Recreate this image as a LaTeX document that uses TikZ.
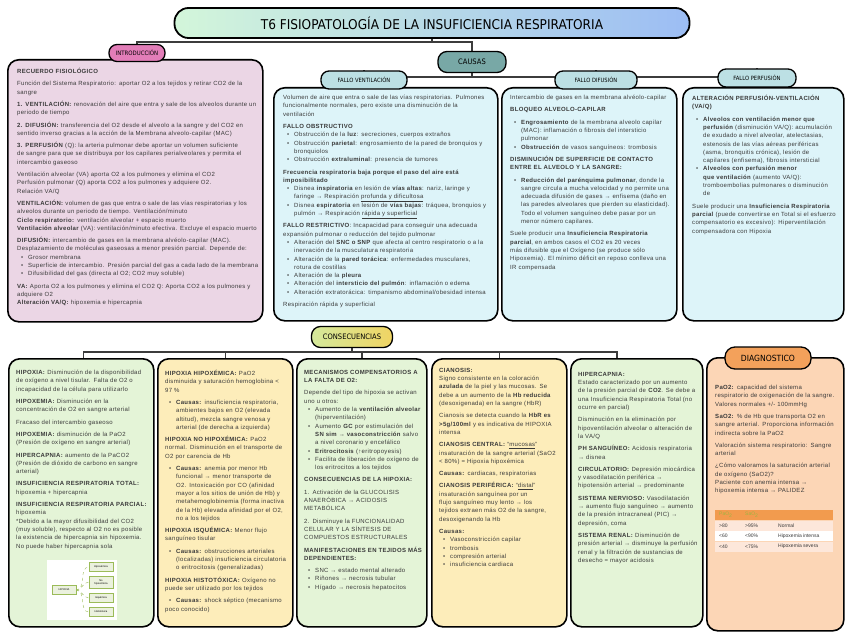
\documentclass[tikz,border=0pt]{standalone}
\usepackage{fontspec}
\setmainfont{Liberation Sans}[LetterSpace=5]
\newfontfamily\handfont{DejaVu Sans Condensed}
\newfontfamily\plainfont{Liberation Sans}
\usepackage{xcolor}
\usepackage{tikz}
\usetikzlibrary{positioning, backgrounds, calc}
\definecolor{titlemint}{HTML}{D3F6DA}
\definecolor{titlecyan}{HTML}{BEE6F2}
\definecolor{titleblue}{HTML}{9CBDF4}
\definecolor{intropink}{HTML}{E27DB8}
\definecolor{introfill}{HTML}{EBD6E5}
\definecolor{causasteal}{HTML}{78A8A6}
\definecolor{subpill}{HTML}{BCE0E4}
\definecolor{causefill}{HTML}{DDF4F9}
\definecolor{consgreen}{HTML}{D5E99C}
\definecolor{consyellow}{HTML}{F0D463}
\definecolor{greenfill}{HTML}{E4F4D7}
\definecolor{yellowfill}{HTML}{FDEDBA}
\definecolor{diagorange}{HTML}{F3A15B}
\definecolor{diagfill}{HTML}{FCD6B6}
\definecolor{tabhead}{HTML}{F29B4E}
\definecolor{tabrow}{HTML}{FDE7DA}
\definecolor{headtext}{HTML}{9DB542}
\definecolor{ink}{HTML}{3A3A3A}
\definecolor{linkgray}{HTML}{3C3C3C}
\definecolor{treegreen}{HTML}{9BBB59}
\definecolor{treefill}{HTML}{EBF1DE}
\setlength{\parindent}{0pt}
\newcommand{\bodysize}{\fontsize{6}{8.3}\selectfont\hyphenpenalty=10000\exhyphenpenalty=10000}
\newcommand{\gap}{\par\vspace{4pt}}
\newcommand{\itm}{\par\hangindent=11pt\hangafter=1\hspace*{4pt}\makebox[7pt][l]{\textbullet}}

\begin{document}
\begin{tikzpicture}[
  x=1pt, y=-1pt,
  font=\bodysize,
  panel/.style={draw=black, line width=1.6pt, rounded corners=11pt, anchor=north west, inner sep=0pt},
  pill/.style={draw=black, line width=1.3pt, rounded corners=8pt, inner xsep=6pt, inner ysep=0pt, text=black},
  body/.style={anchor=north west, align=left, inner sep=0pt, text width=#1, font=\bodysize, text=ink},
  link/.style={line width=1.6pt, draw=linkgray},
  leaf/.style={draw=treegreen, fill=treefill, line width=0.3pt, font=\plainfont\fontsize{2.6}{3}\selectfont, inner sep=1pt, align=center, minimum width=24pt, minimum height=9pt},
  twig/.style={draw=treegreen, line width=0.4pt, dashed},
  cell/.style={anchor=west, inner sep=0pt, font=\plainfont\fontsize{5}{6}\selectfont},
]
\useasboundingbox (0,0) rectangle (848,636);

% title
\node[pill, minimum width=515pt, minimum height=30pt, rounded corners=14pt, line width=1.8pt,
  left color=titlemint, middle color=titlecyan, right color=titleblue,
  font=\handfont\fontsize{13.5}{14}\selectfont] (title) at (432,23) {T6 FISIOPATOLOGÍA DE LA INSUFICIENCIA RESPIRATORIA};

% upper panels
\node[panel, fill=introfill, minimum width=255pt, minimum height=262pt] (introbox) at (7,59) {};
\node[panel, fill=causefill, minimum width=224pt, minimum height=233pt] (ventbox) at (273,87) {};
\node[panel, fill=causefill, minimum width=175pt, minimum height=233pt] (difbox) at (501,87) {};
\node[panel, fill=causefill, minimum width=161pt, minimum height=233pt] (perfbox) at (682,87) {};

\node[pill, fill=intropink, minimum width=56pt, minimum height=17pt, font=\handfont\fontsize{6}{6}\selectfont] (intro) at (137,53) {INTRODUCCIÓN};
\node[pill, fill=causasteal, minimum width=68pt, minimum height=21pt, rounded corners=9pt, font=\handfont\fontsize{7.5}{8}\selectfont] (causas) at (472,62) {CAUSAS};
\node[pill, fill=subpill, minimum width=86pt, minimum height=18pt, font=\handfont\fontsize{5.8}{6}\selectfont] (fvent) at (364,80) {FALLO VENTILACIÓN};
\node[pill, fill=subpill, minimum width=82pt, minimum height=18pt, font=\handfont\fontsize{5.8}{6}\selectfont] (fdif) at (596,80) {FALLO DIFUSIÓN};
\node[pill, fill=subpill, minimum width=78pt, minimum height=18pt, font=\handfont\fontsize{5.8}{6}\selectfont] (fperf) at (757,78) {FALLO PERFUSIÓN};

\node[body=242pt] (introtxt) at (17,68) {%
\textbf{RECUERDO FISIOLÓGICO}\gap
Función del Sistema Respiratorio: aportar O2 a los tejidos y retirar CO2 de la sangre\gap
\textbf{1. VENTILACIÓN:} renovación del aire que entra y sale de los alveolos durante un periodo de tiempo\gap
\textbf{2. DIFUSIÓN:} transferencia del O2 desde el alveolo a la sangre y del CO2 en sentido inverso gracias a la acción de la Membrana alveolo-capilar (MAC)\gap
\textbf{3. PERFUSIÓN} (Q): la arteria pulmonar debe aportar un volumen suficiente de sangre para que se distribuya por los capilares perialveolares y permita el intercambio gaseoso\gap
Ventilación alveolar (VA) aporta O2 a los pulmones y elimina el CO2\par
Perfusión pulmonar (Q) aporta CO2 a los pulmones y adquiere O2.\par
Relación VA/Q\gap
\textbf{VENTILACIÓN:} volumen de gas que entra o sale de las vías respiratorias y los alveolos durante un periodo de tiempo. Ventilación/minuto\par
\textbf{Ciclo respiratorio:} ventilación alveolar + espacio muerto\par
\textbf{Ventilación alveolar} (VA): ventilación/minuto efectiva. Excluye el espacio muerto\gap
\textbf{DIFUSIÓN:} intercambio de gases en la membrana alvéolo-capilar (MAC).\par
Desplazamiento de moléculas gaseosas a menor presión parcial. Depende de:
\itm Grosor membrana
\itm Superficie de intercambio. Presión parcial del gas a cada lado de la membrana
\itm Difusibilidad del gas (directa al O2; CO2 muy soluble)\gap
\textbf{VA:} Aporta O2 a los pulmones y elimina el CO2 Q: Aporta CO2 a los pulmones y adquiere O2\par
\textbf{Alteración VA/Q:} hipoxemia e hipercapnia};

\node[body=204pt] (venttxt) at (283,95) {%
Volumen de aire que entra o sale de las vías respiratorias. Pulmones funcionalmente normales, pero existe una disminución de la ventilación\gap
\textbf{FALLO OBSTRUCTIVO}
\itm Obstrucción de la \textbf{luz}: secreciones, cuerpos extraños
\itm Obstrucción \textbf{parietal}: engrosamiento de la pared de bronquios y bronquiolos
\itm Obstrucción \textbf{extraluminal}: presencia de tumores\gap
\textbf{Frecuencia respiratoria baja porque el paso del aire está imposibilitado}
\itm Disnea \textbf{inspiratoria} en lesión de \textbf{vías altas}: nariz, laringe y faringe → Respiración \underline{profunda y dificultosa}
\itm Disnea \textbf{espiratoria} en lesión de \textbf{vías bajas}: tráquea, bronquios y pulmón → Respiración \underline{rápida y superficial}\gap
\textbf{FALLO RESTRICTIVO}: Incapacidad para conseguir una adecuada expansión pulmonar o reducción del tejido pulmonar
\itm Alteración del \textbf{SNC o SNP} que afecta al centro respiratorio o a la inervación de la musculatura respiratoria
\itm Alteración de la \textbf{pared torácica}: enfermedades musculares, rotura de costillas
\itm Alteración de la \textbf{pleura}
\itm Alteración del \textbf{intersticio del pulmón}: inflamación o edema
\itm Alteración extratorácica: timpanismo abdominal/obesidad intensa\gap
Respiración rápida y superficial};

\node[body=158pt] (diftxt) at (510,95) {%
Intercambio de gases en la membrana alvéolo-capilar\gap
\textbf{BLOQUEO ALVEOLO-CAPILAR}\gap
\itm \textbf{Engrosamiento} de la membrana alveolo capilar (MAC): inflamación o fibrosis del intersticio pulmonar
\itm \textbf{Obstrucción} de vasos sanguíneos: trombosis\gap
\textbf{DISMINUCIÓN DE SUPERFICIE DE CONTACTO ENTRE EL ALVEOLO Y LA SANGRE:}\gap
\itm \textbf{Reducción del parénquima pulmonar}, donde la sangre circula a mucha velocidad y no permite una adecuada difusión de gases → enfisema (daño en las paredes alveolares que pierden su elasticidad). Todo el volumen sanguíneo debe pasar por un menor número capilares.\gap
Suele producir una \textbf{Insuficiencia Respiratoria parcial}, en ambos casos el CO2 es 20 veces más difusible que el Oxígeno (se produce sólo Hipoxemia). El mínimo déficit en reposo conlleva una IR compensada};

\node[body=142pt] (perftxt) at (692,95) {%
\textbf{ALTERACIÓN PERFUSIÓN-VENTILACIÓN (VA/Q)}\gap
\itm \textbf{Alveolos con ventilación menor que perfusión} (disminución VA/Q): acumulación de exudado a nivel alveolar, atelectasias, estenosis de las vías aéreas periféricas (asma, bronquitis crónica), lesión de capilares (enfisema), fibrosis intersticial
\itm \textbf{Alveolos con perfusión menor que ventilación} (aumento VA/Q): tromboembolias pulmonares o disminución de\gap
Suele producir una \textbf{Insuficiencia Respiratoria parcial} (puede convertirse en Total si el esfuerzo compensatorio es excesivo): Hiperventilación compensadora con Hipoxia};

% lower panels
\node[panel, fill=greenfill, minimum width=145pt, minimum height=268pt] (hipoxbox) at (8,358) {};
\node[panel, fill=yellowfill, minimum width=135pt, minimum height=268pt] (tiposbox) at (157,358) {};
\node[panel, fill=greenfill, minimum width=130pt, minimum height=268pt] (mecbox) at (296,358) {};
\node[panel, fill=yellowfill, minimum width=135pt, minimum height=268pt] (cianbox) at (431,358) {};
\node[panel, fill=greenfill, minimum width=132pt, minimum height=268pt] (hiperbox) at (570,358) {};
\node[panel, fill=diagfill, minimum width=137pt, minimum height=273pt] (diagbox) at (706,357) {};

\node[pill, minimum width=81pt, minimum height=21pt, rounded corners=9pt, left color=consgreen, right color=consyellow,
  font=\handfont\fontsize{7.5}{8}\selectfont] (cons) at (352,337) {CONSECUENCIAS};
\node[pill, fill=diagorange, minimum width=86pt, minimum height=22pt, rounded corners=10pt,
  font=\handfont\fontsize{8.5}{9}\selectfont] (diag) at (768,358) {DIAGNOSTICO};

\node[body=131pt] (hipoxtxt) at (16,370) {%
\textbf{HIPOXIA:} Disminución de la disponibilidad de oxígeno a nivel tisular. Falta de O2 o incapacidad de la célula para utilizarlo\gap
\textbf{HIPOXEMIA:} Disminución en la concentración de O2 en sangre arterial\gap
Fracaso del intercambio gaseoso\gap
\textbf{HIPOXEMIA:} disminución de la PaO2 (Presión de oxígeno en sangre arterial)\gap
\textbf{HIPERCAPNIA:} aumento de la PaCO2 (Presión de dióxido de carbono en sangre arterial)\gap
\textbf{INSUFICIENCIA RESPIRATORIA TOTAL:} hipoxemia + hipercapnia\gap
\textbf{INSUFICIENCIA RESPIRATORIA PARCIAL:} hipoxemia\par
*Debido a la mayor difusibilidad del CO2 (muy soluble), respecto al O2 no es posible la existencia de hipercapnia sin hipoxemia. No puede haber hipercapnia sola};

% small tree inside the first panel
\node[fill=white, anchor=north west, minimum width=70pt, minimum height=60pt, inner sep=0pt] (treebg) at (47,560) {};
\node[leaf] (troot) at (64,590) {HIPOXIA};
\node[leaf] (tleaf1) at (101,567) {Hipoxémica};
\node[leaf, minimum height=12pt] (tleaf2) at (101,582) {No\\hipoxémica};
\node[leaf] (tleaf3) at (101,598) {Isquémica};
\node[leaf] (tleaf4) at (101,612) {Histotóxica};
\draw[twig] (troot.east) to[out=0, in=180] (tleaf1.west);
\draw[twig] (troot.east) to[out=0, in=180] (tleaf2.west);
\draw[twig] (troot.east) to[out=0, in=180] (tleaf3.west);
\draw[twig] (troot.east) to[out=0, in=180] (tleaf4.west);

\node[body=121pt] (tipostxt) at (165,370) {%
\textbf{HIPOXIA HIPOXÉMICA:} PaO2 disminuida y saturación hemoglobina < 97 \%\gap
\itm \textbf{Causas:} insuficiencia respiratoria, ambientes bajos en O2 (elevada altitud), mezcla sangre venosa y arterial (de derecha a izquierda)\gap
\textbf{HIPOXIA NO HIPOXÉMICA:} PaO2 normal. Disminución en el transporte de O2 por carencia de Hb\gap
\itm \textbf{Causas:} anemia por menor Hb funcional → menor transporte de O2. Intoxicación por CO (afinidad mayor a los sitios de unión de Hb) y metahemoglobinemia (forma inactiva de la Hb) elevada afinidad por el O2, no a los tejidos\gap
\textbf{HIPOXIA ISQUÉMICA:} Menor flujo sanguíneo tisular\gap
\itm \textbf{Causas:} obstrucciones arteriales (localizadas) insuficiencia circulatoria o eritrocitosis (generalizadas)\gap
\textbf{HIPOXIA HISTOTÓXICA:} Oxígeno no puede ser utilizado por los tejidos\gap
\itm \textbf{Causas:} shock séptico (mecanismo poco conocido)};

\node[body=118pt] (mectxt) at (304,370) {%
\textbf{MECANISMOS COMPENSATORIOS A LA FALTA DE O2:}\gap
Depende del tipo de hipoxia se activan uno u otros:
\itm Aumento de la \textbf{ventilación alveolar} (hiperventilación)
\itm Aumento \textbf{GC} por estimulación del \textbf{SN sim → vasoconstricción} salvo a nivel coronario y encefálico
\itm \textbf{Eritrocitosis} (↑eritropoyesis)
\itm Facilita de liberación de oxígeno de los eritrocitos a los tejidos\gap
\textbf{CONSECUENCIAS DE LA HIPOXIA:}\gap
1. Activación de la GLUCOLISIS ANAERÓBICA → ACIDOSIS METABÓLICA\gap
2. Disminuye la FUNCIONALIDAD CELULAR Y LA SÍNTESIS DE COMPUESTOS ESTRUCTURALES\gap
\textbf{MANIFESTACIONES EN TEJIDOS MÁS DEPENDIENTES:}\gap
\itm SNC → estado mental alterado
\itm Riñones → necrosis tubular
\itm Hígado → necrosis hepatocitos};

\node[body=121pt] (ciantxt) at (439,368) {%
\textbf{CIANOSIS:}\par
Signo consistente en la coloración \textbf{azulada} de la piel y las mucosas. Se debe a un aumento de la \textbf{Hb reducida} (desoxigenada) en la sangre (HbR)\gap
Cianosis se detecta cuando la \textbf{HbR es >5g/100ml} y es indicativa de HIPOXIA intensa\gap
\textbf{CIANOSIS CENTRAL:} “\underline{mucosas}” insaturación de la sangre arterial (SaO2 < 80\%) = Hipoxia hipoxémica\gap
\textbf{Causas:} cardiacas, respiratorias\gap
\textbf{CIANOSIS PERIFÉRICA:} “\underline{distal}” insaturación sanguínea por un flujo sanguíneo muy lento → los tejidos extraen más O2 de la sangre, desoxigenando la Hb\gap
\textbf{Causas:}
\itm Vasoconstricción capilar
\itm trombosis
\itm compresión arterial
\itm insuficiencia cardiaca};

\node[body=118pt] (hipertxt) at (578,372) {%
\textbf{HIPERCAPNIA:}\par
Estado caracterizado por un aumento de la presión parcial de \textbf{CO2}. Se debe a una Insuficiencia Respiratoria Total (no ocurre en parcial)\gap
Disminución en la eliminación por hipoventilación alveolar o alteración de la VA/Q\gap
\textbf{PH SANGUÍNEO:} Acidosis respiratoria → disnea\gap
\textbf{CIRCULATORIO:} Depresión miocárdica y vasodilatación periférica → hipotensión arterial → predominante\gap
\textbf{SISTEMA NERVIOSO:} Vasodilatación → aumento flujo sanguíneo → aumento de la presión intracraneal (PIC) → depresión, coma\gap
\textbf{SISTEMA RENAL:} Disminución de presión arterial → disminuye la perfusión renal y la filtración de sustancias de desecho = mayor acidosis};

\node[body=118pt] (diagtxt) at (715,385) {%
\textbf{PaO2:} capacidad del sistema respiratorio de oxigenación de la sangre. Valores normales +/- 100mmHg\gap
\textbf{SaO2:} \% de Hb que transporta O2 en sangre arterial. Proporciona información indirecta sobre la PaO2\gap
Valoración sistema respiratorio: Sangre arterial\gap
¿Cómo valoramos la saturación arterial de oxígeno (SaO2)?\par
Paciente con anemia intensa → hipoxemia intensa → PALIDEZ};

% saturation table
\node[fill=tabhead, anchor=north west, minimum width=118pt, minimum height=10pt, inner sep=0pt] (tabtop) at (715,510) {};
\node[fill=tabrow, anchor=north west, minimum width=118pt, minimum height=10pt, inner sep=0pt] (tabr1) at (715,520.5) {};
\node[fill=white, anchor=north west, minimum width=118pt, minimum height=10pt, inner sep=0pt] (tabr2) at (715,531) {};
\node[fill=tabrow, anchor=north west, minimum width=118pt, minimum height=10pt, inner sep=0pt] (tabr3) at (715,541.5) {};
\node[cell, text=headtext] (hpao) at (719,515) {PaO\textsubscript{2}};
\node[cell, text=headtext] (hsao) at (745,515) {SaO\textsubscript{2}};
\node[cell, text=ink] (r1a) at (719,525.5) {>80};
\node[cell, text=ink] (r1b) at (745,525.5) {>95\%};
\node[cell, text=ink] (r1c) at (778,525.5) {Normal};
\node[cell, text=ink] (r2a) at (719,536) {<60};
\node[cell, text=ink] (r2b) at (745,536) {<90\%};
\node[cell, text=ink] (r2c) at (778,536) {Hipoxemia intensa};
\node[cell, text=ink] (r3a) at (719,546.5) {<40};
\node[cell, text=ink] (r3b) at (745,546.5) {<75\%};
\node[cell, text=ink] (r3c) at (778,546.5) {Hipoxemia severa};

% connectors behind everything
\begin{scope}[on background layer]
  \coordinate (topbus) at (432,42);
  \draw[link] (title.south) -- (topbus);
  \draw[link] (topbus) -| (intro.north);
  \draw[link] (topbus) -| (causas.north);
  \coordinate (causebus) at (472,77);
  \draw[link] (causas.south) -- (causebus);
  \draw[link] (causebus) -| (fvent.north);
  \draw[link] (causebus) -| (fdif.north);
  \draw[link] (causebus) -| (fperf.north);
  \coordinate (consbus) at (352,352);
  \draw[link] (cons.south) -- (consbus);
  \draw[link] (consbus) -| ([xshift=2pt]hipoxbox.north);
  \draw[link] (consbus) -| (tiposbox.north);
  \draw[link] (consbus) -| (mecbox.north);
  \draw[link] (consbus) -| (cianbox.north);
  \draw[link] (consbus) -| ([xshift=-20pt]hiperbox.north);
\end{scope}
\end{tikzpicture}
\end{document}
